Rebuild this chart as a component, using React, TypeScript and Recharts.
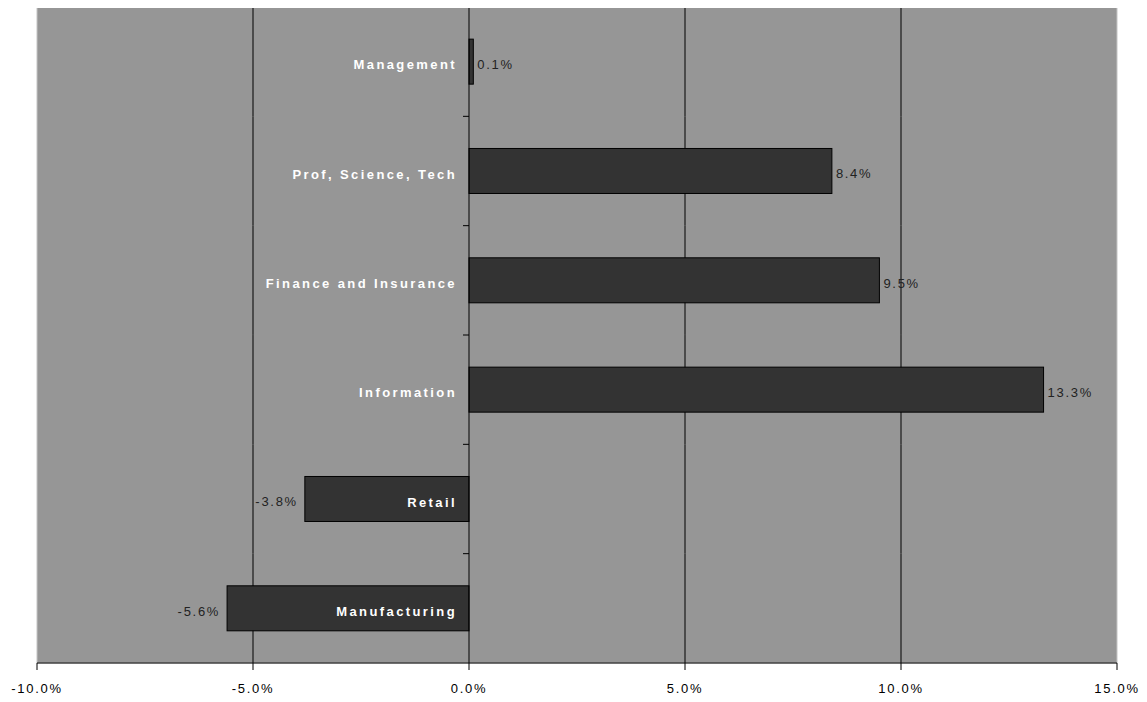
import { BarChart, Bar, XAxis, YAxis, CartesianGrid, ReferenceLine, ReferenceArea, LabelList } from 'recharts';

const categories = ['Management', 'Prof, Science, Tech', 'Finance and Insurance', 'Information', 'Retail', 'Manufacturing'];
const changes = [0.1, 8.4, 9.5, 13.3, -3.8, -5.6];
const xTicks = [-10, -5, 0, 5, 10, 15];
const gridValues = [-5, 5, 10];

const data = categories.map((name, i) => ({ name, change: changes[i] }));

const FONT = 'Arial, "Liberation Sans", sans-serif';
const GAP = 0.294; // barCategoryGap as a fraction of the band
const pct = (v: number) => `${v.toFixed(1)}%`;

// the grid here would paint over the bars, so each bar draws the
// gridline pieces of its own band first, then itself on top
function BarWithGrid(props: any) {
  const { x, y, width, height, payload } = props;
  const value = Number(payload.change);
  const zero = value >= 0 ? Math.min(x, x + width) : Math.max(x, x + width);
  const perUnit = Math.abs(width) / Math.abs(value);
  const gap = (height * GAP) / (1 - 2 * GAP);
  const left = Math.min(x, x + width);
  return (
    <g>
      {gridValues.map(v => {
        const gx = zero + v * perUnit;
        return <line key={v} x1={gx} x2={gx} y1={y - gap} y2={y + height + gap} stroke="#000" strokeWidth={1} />;
      })}
      <rect x={left} y={y} width={Math.abs(width)} height={height} fill="#333333" stroke="#000" strokeWidth={1} />
    </g>
  );
}

// zero line doubles as the category axis: boundary ticks + white labels
function ZeroAxis(props: any) {
  const { x1, y1, y2 } = props;
  const top = Math.min(y1, y2);
  const bottom = Math.max(y1, y2);
  const band = (bottom - top) / categories.length;
  return (
    <g>
      <line x1={x1} y1={top} x2={x1} y2={bottom} stroke="#000" strokeWidth={1} />
      {categories.map((_, i) => (
        <line key={'t' + i} x1={x1 - 6} x2={x1} y1={top + i * band} y2={top + i * band} stroke="#000" />
      ))}
      {categories.map((c, i) => (
        <text
          key={c}
          x={x1 - 12}
          y={top + (i + 0.5) * band + 3}
          textAnchor="end"
          dominantBaseline="central"
          fill="#fff"
          fontFamily={FONT}
          fontWeight="bold"
          fontSize={13}
          letterSpacing={2.4}
        >
          {c}
        </text>
      ))}
    </g>
  );
}

function ValueLabel(props: any) {
  const vb = props.viewBox ?? props;
  const { x, y, width, height } = vb;
  const value = Number(props.value);
  const left = Math.min(x, x + width);
  const right = Math.max(x, x + width);
  const cy = y + height / 2 + 3;
  const neg = value < 0;
  return (
    <text
      x={neg ? left - 7 : right + 4}
      y={cy}
      textAnchor={neg ? 'end' : 'start'}
      dominantBaseline="central"
      fill="#222"
      fontFamily={FONT}
      fontSize={13}
      letterSpacing={1.7}
    >
      {pct(value)}
    </text>
  );
}

export default function App() {
  return (
    <div style={{ margin: -8, width: 1147, height: 702, background: '#fff' }}>
      <BarChart
        width={1147}
        height={702}
        data={data}
        layout="vertical"
        margin={{ top: 7, right: 30, bottom: 0, left: 37 }}
        barCategoryGap={`${GAP * 100}%`}
      >
        <CartesianGrid horizontal={false} vertical={false} fill="#969696" />
        <ReferenceArea x1={-10} x2={15} fill="none" stroke="#c4c4c4" strokeWidth={1} />
        <XAxis
          type="number"
          domain={[-10, 15]}
          ticks={xTicks}
          interval={0}
          tickFormatter={pct}
          height={39}
          axisLine={{ stroke: '#000' }}
          tickLine={{ stroke: '#000' }}
          tickSize={7}
          tickMargin={14}
          tick={{ fill: '#000', fontSize: 13, fontFamily: FONT, letterSpacing: 1.7 }}
        />
        <YAxis type="category" dataKey="name" hide />
        <Bar dataKey="change" fill="#333333" stroke="#000" shape={BarWithGrid} isAnimationActive={false}>
          <LabelList dataKey="change" content={ValueLabel} />
        </Bar>
        <ReferenceLine x={0} stroke="#000" shape={ZeroAxis} />
      </BarChart>
    </div>
  );
}
